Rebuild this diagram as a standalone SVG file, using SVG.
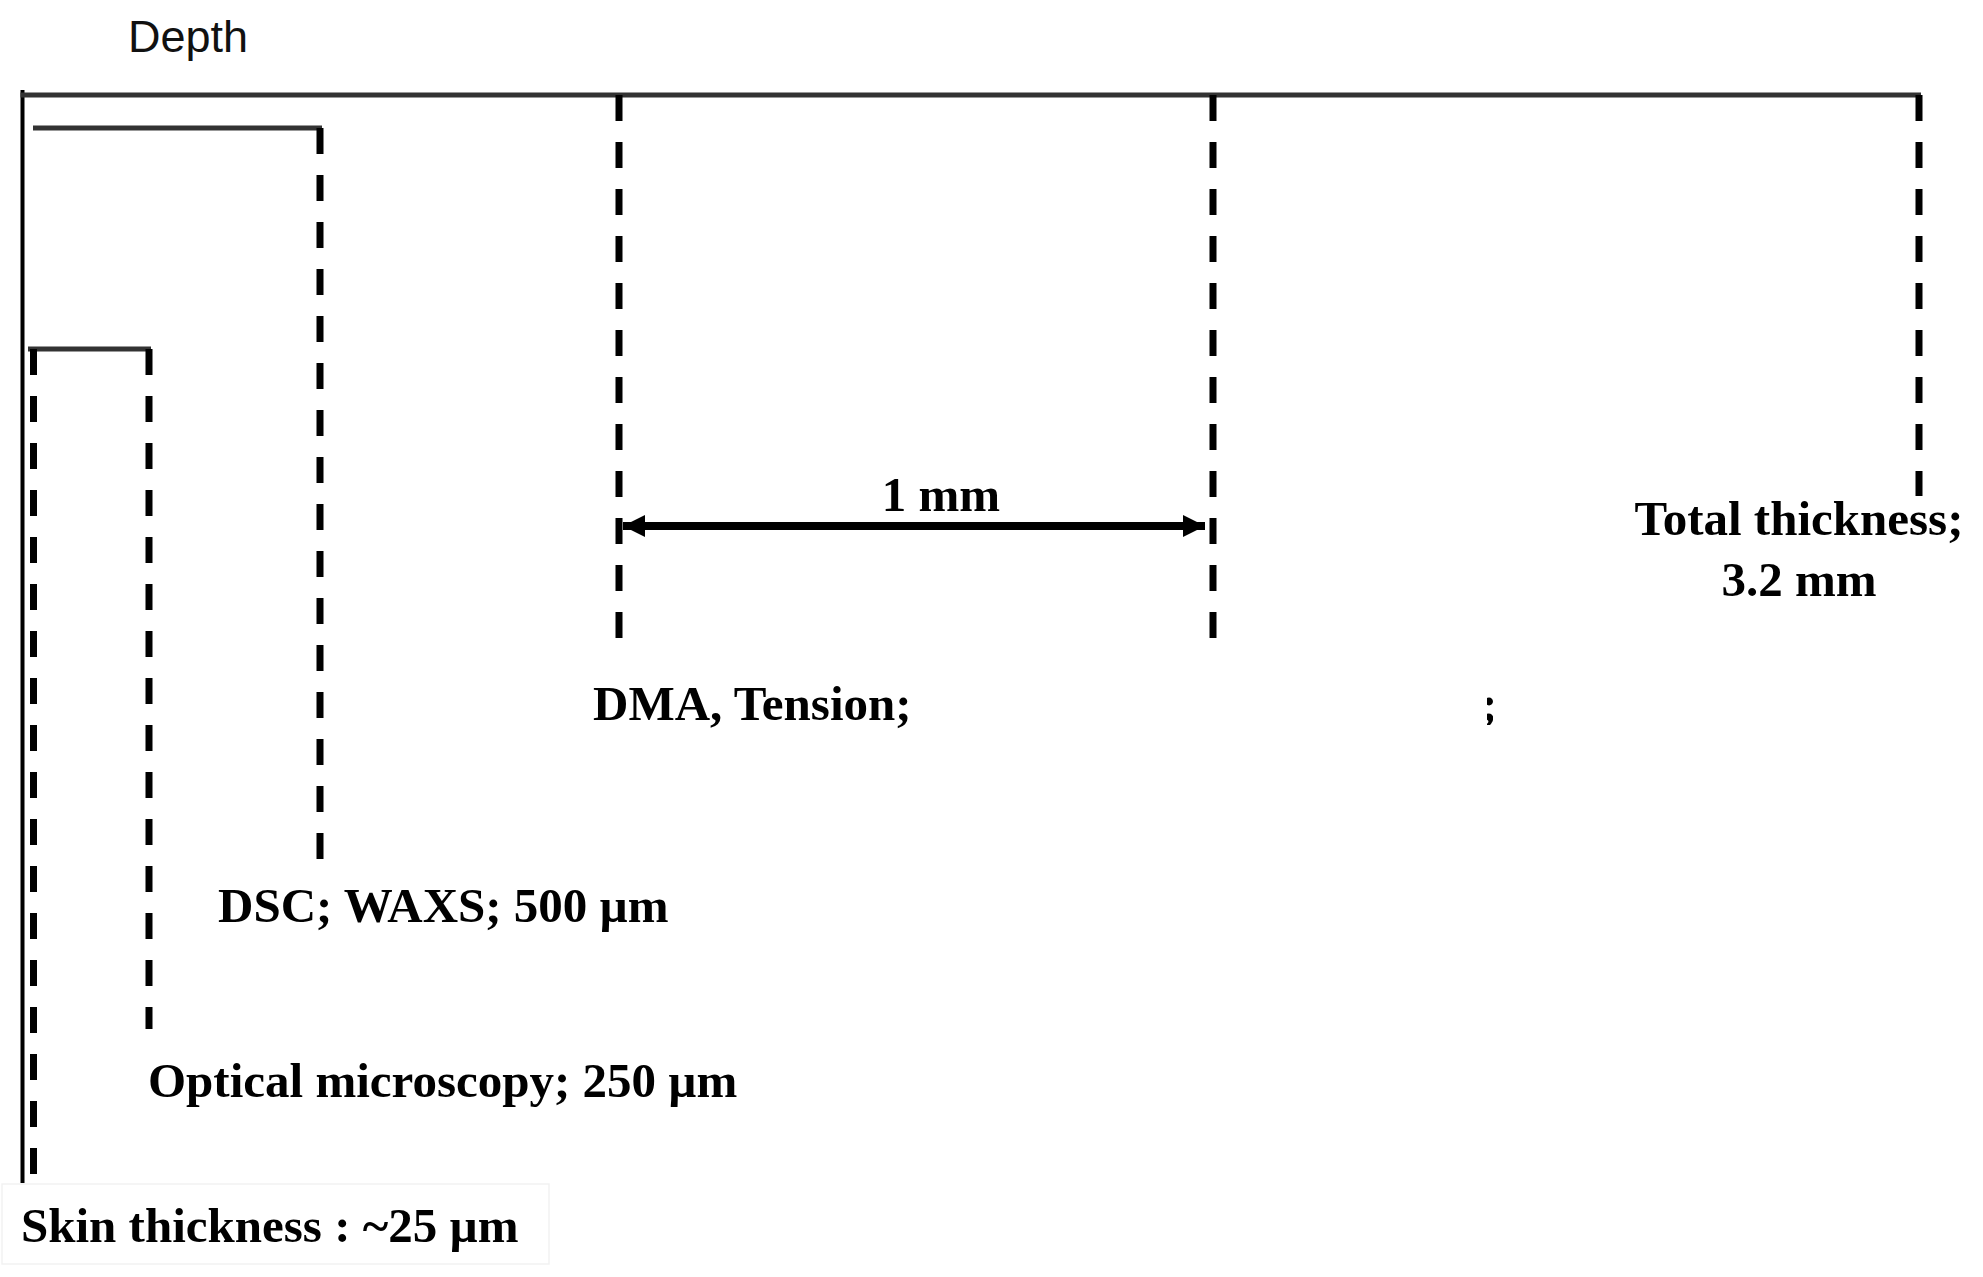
<svg xmlns="http://www.w3.org/2000/svg" width="1983" height="1277" viewBox="0 0 1983 1277">
<style>
.lbl{font-family:"Liberation Serif","Times New Roman",serif;font-weight:bold;font-size:49px;fill:#000}
.solid{stroke:#333;stroke-width:5;fill:none}
.dash{stroke:#000;stroke-width:7;stroke-dasharray:26 21;fill:none}
</style>
<defs>
<marker id="ah" markerUnits="userSpaceOnUse" markerWidth="24" markerHeight="24" refX="22" refY="12" orient="auto-start-reverse">
<path d="M0,1 L22,12 L0,23 Z" fill="#000"/>
</marker>
<clipPath id="frag"><rect x="1487" y="690" width="6" height="35"/></clipPath>
</defs>
<rect width="1983" height="1277" fill="#fff"/>
<text x="128" y="52" font-family="Liberation Sans, Arial, sans-serif" font-size="45" fill="#111">Depth</text>
<g id="connectors">
<line x1="22.5" y1="90" x2="22.5" y2="1183" stroke="#000" stroke-width="4"/>
<line x1="20.5" y1="95" x2="1921" y2="95" class="solid"/>
<line x1="623" y1="526" x2="1205" y2="526" stroke="#000" stroke-width="8" marker-start="url(#ah)" marker-end="url(#ah)"/>
</g>
<g id="total">
<line x1="1919" y1="95" x2="1919" y2="496" class="dash"/>
<text class="lbl" x="1799" y="535" text-anchor="middle" font-size="48">Total thickness;</text>
<text class="lbl" x="1799" y="596" text-anchor="middle" font-size="48">3.2 mm</text>
</g>
<g id="dma">
<line x1="619" y1="95" x2="619" y2="639" class="dash"/>
<line x1="1213" y1="95" x2="1213" y2="642" class="dash"/>
<text class="lbl" x="941" y="511" text-anchor="middle" font-size="48">1 mm</text>
<text class="lbl" x="593" y="720" font-size="48">DMA, Tension;</text>
<text class="lbl" x="1481" y="720" font-size="48" clip-path="url(#frag)">;</text>
</g>
<g id="dsc">
<line x1="33" y1="128" x2="322" y2="128" class="solid"/>
<line x1="320" y1="128" x2="320" y2="864" class="dash"/>
<text class="lbl" x="218" y="922">DSC; WAXS; 500 µm</text>
</g>
<g id="optical">
<line x1="28" y1="349" x2="151" y2="349" class="solid" stroke-width="4"/>
<line x1="33.5" y1="349" x2="33.5" y2="1181" class="dash"/>
<line x1="149" y1="349" x2="149" y2="1029" class="dash"/>
<text class="lbl" x="148" y="1097">Optical microscopy; 250 µm</text>
</g>
<g id="skin">
<rect x="2" y="1184" width="547" height="80" fill="#fff" stroke="#f2f2f2" stroke-width="1.5"/>
<text class="lbl" x="21" y="1242">Skin thickness : ~25 µm</text>
</g>
</svg>
